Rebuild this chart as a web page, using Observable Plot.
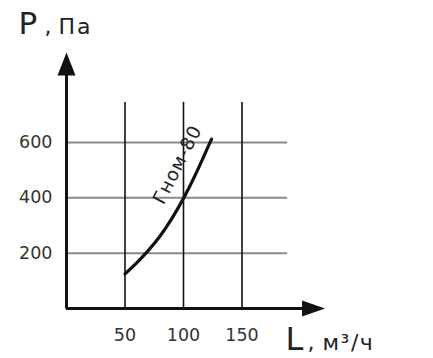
<!DOCTYPE html>
<html>
<head>
<meta charset="utf-8">
<script src="https://cdn.jsdelivr.net/npm/d3@7"></script>
<script src="https://cdn.jsdelivr.net/npm/@observablehq/plot@0.6"></script>
<style>
  html, body { margin: 0; padding: 0; background: #fff; }
  #chart svg { display: block; }
</style>
</head>
<body>
<div id="chart"></div>
<script>
// Data
const flowL = [50, 60, 70, 80, 90, 100, 110, 120, 124];          // L, м³/ч
const pressureP = [125, 165, 210, 262, 325, 398, 482, 575, 612];  // P, Па
const xTicks = [50, 100, 150];
const yTicks = [200, 400, 600];
const seriesName = "Гном-80";

// Layout extents (data units)
const gridTop = 745, gridRight = 189;
const axisTopP = 925, axisRightL = 221;

const curve = flowL.map((l, i) => ({L: l, P: pressureP[i]}));

const arrowUp = {draw(ctx) { ctx.moveTo(0, 0); ctx.lineTo(-9, 23); ctx.lineTo(9, 23); ctx.closePath(); }};
const arrowRight = {draw(ctx) { ctx.moveTo(0, 0); ctx.lineTo(-23, -8); ctx.lineTo(-23, 8); ctx.closePath(); }};

const font = "'DejaVu Sans', sans-serif";

const chart = Plot.plot({
  width: 433,
  height: 358,
  margin: 0,
  style: {fontFamily: font, background: "#fff"},
  x: {domain: [0, 150], range: [66, 241.5], axis: null},
  y: {domain: [0, 600], range: [308, 142], axis: null},
  marks: [
    // horizontal grid (gray)
    Plot.ruleY(yTicks, {x1: 0, x2: gridRight, stroke: "#8a8a8a", strokeWidth: 2}),
    // vertical grid (black)
    Plot.ruleX(xTicks, {y1: 0, y2: gridTop, stroke: "#111", strokeWidth: 1.6}),
    // axes
    Plot.ruleX([0], {y1: -2, y2: axisTopP - 40, stroke: "#111", strokeWidth: 3}),
    Plot.ruleY([0], {x1: 0, x2: axisRightL - 10, stroke: "#111", strokeWidth: 3}),
    Plot.dot([{L: 0, P: axisTopP}], {x: "L", y: "P", symbol: arrowUp, fill: "#111", stroke: null}),
    Plot.dot([{L: axisRightL, P: 0}], {x: "L", y: "P", symbol: arrowRight, fill: "#111", stroke: null}),
    // curve
    Plot.line(curve, {x: "L", y: "P", stroke: "#111", strokeWidth: 3.2, curve: "natural"}),
    Plot.text([seriesName], {x: () => 95, y: () => 520, text: d => d, rotate: -63, fontSize: 18.5, fill: "#222"}),
    // tick labels
    Plot.text(yTicks, {x: 0, y: d => d, text: d => String(d), textAnchor: "end", dx: -14, fontSize: 17.5, fill: "#333"}),
    Plot.text(xTicks, {x: d => d, y: 0, text: d => String(d), dy: 27, fontSize: 17.5, fill: "#333"}),
    // axis titles
    Plot.text(["P"], {frameAnchor: "top-left", text: d => d, dx: 18, dy: 33, lineAnchor: "bottom", textAnchor: "start", fontSize: 31, fill: "#222"}),
    Plot.text([","], {frameAnchor: "top-left", text: d => d, dx: 44, dy: 33, lineAnchor: "bottom", textAnchor: "start", fontSize: 22, fill: "#222"}),
    Plot.text(["Па"], {frameAnchor: "top-left", text: d => d, dx: 58, dy: 33, lineAnchor: "bottom", textAnchor: "start", fontSize: 22, fill: "#222"}),
    Plot.text(["L"], {frameAnchor: "top-left", text: d => d, dx: 285, dy: 349, lineAnchor: "bottom", textAnchor: "start", fontSize: 32, fill: "#222"}),
    Plot.text([","], {frameAnchor: "top-left", text: d => d, dx: 307, dy: 349, lineAnchor: "bottom", textAnchor: "start", fontSize: 22, fill: "#222"}),
    Plot.text(["м³/ч"], {frameAnchor: "top-left", text: d => d, dx: 322, dy: 349, lineAnchor: "bottom", textAnchor: "start", fontSize: 22, fill: "#222"})
  ]
});
// letter spacing for wide-tracked labels
const textGroups = chart.querySelectorAll('g[aria-label="text"]');
textGroups[0].setAttribute("letter-spacing", "1");
textGroups[5].setAttribute("letter-spacing", "2");
textGroups[8].setAttribute("letter-spacing", "1.5");
document.getElementById("chart").appendChild(chart);
</script>
</body>
</html>
